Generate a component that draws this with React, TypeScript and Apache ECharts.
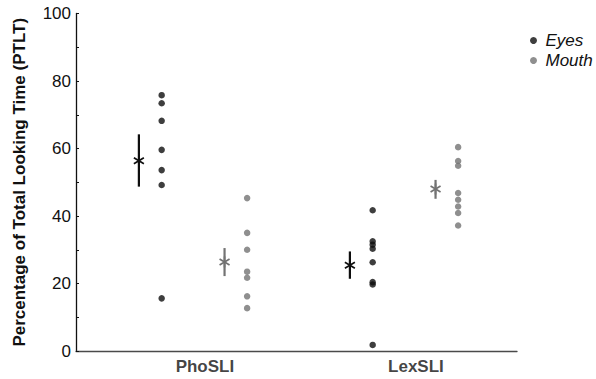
import React, { useEffect, useRef } from "react";
import * as echarts from "echarts";

const categories = ["PhoSLI", "LexSLI"];
const seriesNames = ["Eyes", "Mouth"];

// individual participants
const eyesPho = [75.8, 73.4, 68.2, 59.6, 53.6, 49.2, 15.6];
const eyesLex = [41.7, 32.5, 31.5, 30.3, 26.3, 20.4, 19.7, 1.8];
const mouthPho = [45.3, 35.0, 30.0, 23.5, 21.7, 16.2, 12.7];
const mouthLex = [60.4, 56.3, 54.9, 46.8, 44.8, 42.8, 40.9, 37.2];

// means with error bars
const eyesMean = [56.4, 25.4];
const eyesLow = [48.7, 21.4];
const eyesHigh = [64.2, 29.5];
const mouthMean = [26.4, 48.0];
const mouthLow = [22.2, 45.1];
const mouthHigh = [30.5, 50.7];

const yTicks = [0, 20, 40, 60, 80, 100];

const BLACK = "#0e0e0e";
const GRAY = "#737373";
const FONT = "Liberation Sans, Arial, sans-serif";

// horizontal placement within each group (axis units)
const OFF_EYES_MEAN = -0.313;
const OFF_EYES_DOTS = -0.205;
const OFF_MOUTH_MEAN = 0.093;
const OFF_MOUTH_DOTS = 0.2;

export default function App() {
  const ref = useRef<HTMLDivElement>(null);
  useEffect(() => {
    document.body.style.margin = "0";
    if (!ref.current) return;
    const chart = echarts.init(ref.current, null, { renderer: "svg" });

    const dots = (groups: number[][], off: number) =>
      groups.flatMap((vals, gi) => vals.map((v) => [gi + 1 + off, v]));
    const means = (m: number[], lo: number[], hi: number[], off: number) =>
      m.map((v, gi) => [gi + 1 + off, v, lo[gi], hi[gi]]);

    const renderMean = (params: any, api: any) => {
      const x = api.value(0);
      const pm = api.coord([x, api.value(1)]);
      const plo = api.coord([x, api.value(2)]);
      const phi = api.coord([x, api.value(3)]);
      const color = api.visual("color");
      const s = { stroke: color, lineWidth: 2.2 };
      const s2 = { stroke: color, lineWidth: 1.7 };
      const a = 5,
        b = 3;
      return {
        type: "group",
        children: [
          { type: "line", shape: { x1: plo[0], y1: plo[1], x2: phi[0], y2: phi[1] }, style: s },
          { type: "line", shape: { x1: pm[0] - a, y1: pm[1] - b, x2: pm[0] + a, y2: pm[1] + b }, style: s2 },
          { type: "line", shape: { x1: pm[0] - a, y1: pm[1] + b, x2: pm[0] + a, y2: pm[1] - b }, style: s2 },
          { type: "line", shape: { x1: pm[0], y1: pm[1] - 5.5, x2: pm[0], y2: pm[1] + 5.5 }, style: s2 },
        ],
      };
    };

    chart.setOption({
      animation: false,
      grid: { left: 76, right: 79, top: 13.5, bottom: 28 },
      legend: {
        data: seriesNames.map((n) => ({ name: n, icon: "circle" })),
        orient: "vertical",
        left: 525,
        top: 27,
        itemWidth: 14,
        itemHeight: 7,
        itemGap: 3,
        textStyle: { fontSize: 17, fontStyle: "italic", color: "#111", fontFamily: FONT },
        selectedMode: false,
      },
      xAxis: {
        type: "value",
        min: 0.389,
        max: 2.479,
        axisLine: { show: true, lineStyle: { color: "#4a4a4a", width: 1.3 } },
        axisTick: { show: false },
        axisLabel: { show: false },
        splitLine: { show: false },
      },
      yAxis: {
        type: "value",
        min: 0,
        max: 100,
        interval: 10,
        name: "Percentage of Total Looking Time (PTLT)",
        nameLocation: "middle",
        nameGap: 48,
        nameTextStyle: { fontSize: 17, fontWeight: "bold", color: "#111", fontFamily: FONT },
        axisLine: { show: true, lineStyle: { color: "#111", width: 1.3 } },
        axisTick: { show: true, inside: true, length: 3, lineStyle: { color: "#111" } },
        axisLabel: {
          fontSize: 17,
          color: "#111",
          fontFamily: FONT,
          margin: 5,
          formatter: (v: number) => (yTicks.includes(v) ? String(v) : ""),
        },
        splitLine: { show: false },
      },
      series: [
        {
          name: "Eyes",
          type: "scatter",
          symbol: "circle",
          symbolSize: 6.5,
          itemStyle: { color: BLACK },
          data: dots([eyesPho, eyesLex], OFF_EYES_DOTS),
          z: 3,
        },
        {
          name: "Mouth",
          type: "scatter",
          symbol: "circle",
          symbolSize: 6.5,
          itemStyle: { color: GRAY },
          data: dots([mouthPho, mouthLex], OFF_MOUTH_DOTS),
          z: 3,
        },
        {
          name: "Eyes mean",
          type: "custom",
          renderItem: renderMean,
          itemStyle: { color: BLACK },
          encode: { x: 0, y: 1 },
          data: means(eyesMean, eyesLow, eyesHigh, OFF_EYES_MEAN),
        },
        {
          name: "Mouth mean",
          type: "custom",
          renderItem: renderMean,
          itemStyle: { color: GRAY },
          encode: { x: 0, y: 1 },
          data: means(mouthMean, mouthLow, mouthHigh, OFF_MOUTH_MEAN),
        },
        {
          name: "categories",
          type: "scatter",
          symbolSize: 0,
          silent: true,
          data: categories.map((c, i) => ({ value: [i + 1, 0], name: c })),
          label: {
            show: true,
            position: "bottom",
            distance: 7,
            formatter: (p: any) => p.name,
            fontSize: 17,
            fontWeight: "bold",
            color: "#111",
            fontFamily: FONT,
          },
        },
      ],
    });
    return () => chart.dispose();
  }, []);
  return <div ref={ref} style={{ width: 596, height: 379 }} />;
}
